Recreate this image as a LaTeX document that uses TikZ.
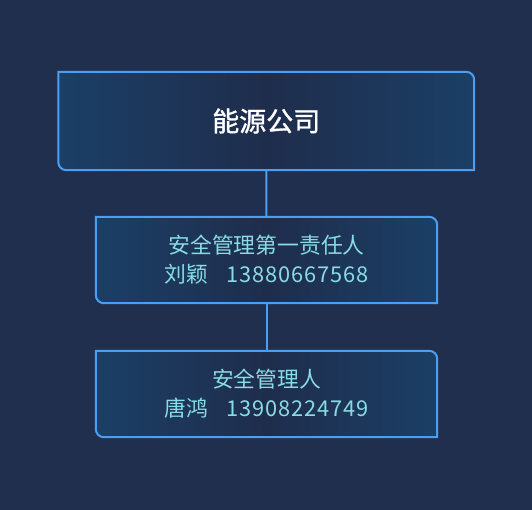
\documentclass[tikz,border=0pt]{standalone}
\usepackage{fontspec}
\newfontfamily\cjk{Noto Sans CJK SC}
\newfontfamily\cjkmed[FakeBold=1.2]{Noto Sans CJK SC}
\usepackage{tikz}
\usetikzlibrary{positioning, calc, backgrounds}

\definecolor{pagebg}{HTML}{1F2F4D}
\definecolor{boxedge}{HTML}{1B3F66}
\definecolor{boxmid}{HTML}{1F2D4C}
\definecolor{boxline}{HTML}{4A9FF5}
\definecolor{persontext}{HTML}{88DCE4}

\tikzset{
    orgbox/.style={rectangle, inner sep=0pt, align=center, font=\cjk},
    toptext/.style={text=white, font=\cjkmed\fontsize{27}{30}\selectfont},
    subtext/.style={text=persontext, font=\cjk\fontsize{21.8}{29}\selectfont},
    link/.style={draw=boxline, line width=2pt},
}

% box with rounded top-right and bottom-left corners
\newcommand{\boxoutline}[1]{%
    \draw[link, left color=boxedge, right color=boxedge, middle color=boxmid]
        (#1.north west) -- ([xshift=-8pt]#1.north east)
        arc[start angle=90, end angle=0, radius=8pt] -- (#1.south east)
        -- ([xshift=8pt]#1.south west)
        arc[start angle=270, end angle=180, radius=8pt] -- cycle;}

\begin{document}
\begin{tikzpicture}[x=1pt, y=1pt]
        \useasboundingbox (0,0) rectangle (532,510);
        \node[orgbox, toptext, minimum width=415.5pt, minimum height=98pt] (company) at (266.25, 389) {能源公司};
        \node[orgbox, subtext, minimum width=341pt, minimum height=86pt] (chief) at (266.5, 250)
            {安全管理第一责任人\\刘颖\hspace{0.85em}\addfontfeatures{LetterSpace=4}13880667568};
        \node[orgbox, subtext, minimum width=341pt, minimum height=86pt] (manager) at (266.5, 116)
            {安全管理人\\唐鸿\hspace{0.85em}\addfontfeatures{LetterSpace=4}13908224749};
        \begin{pgfonlayer}{background}
            \fill[pagebg] (0,0) rectangle (532,510);
            \boxoutline{company}
            \boxoutline{chief}
            \boxoutline{manager}
            \draw[link] (company.south) -- (chief.north);
            \draw[link] (chief.south) -- (manager.north);
        \end{pgfonlayer}
    \end{tikzpicture}
\end{document}
